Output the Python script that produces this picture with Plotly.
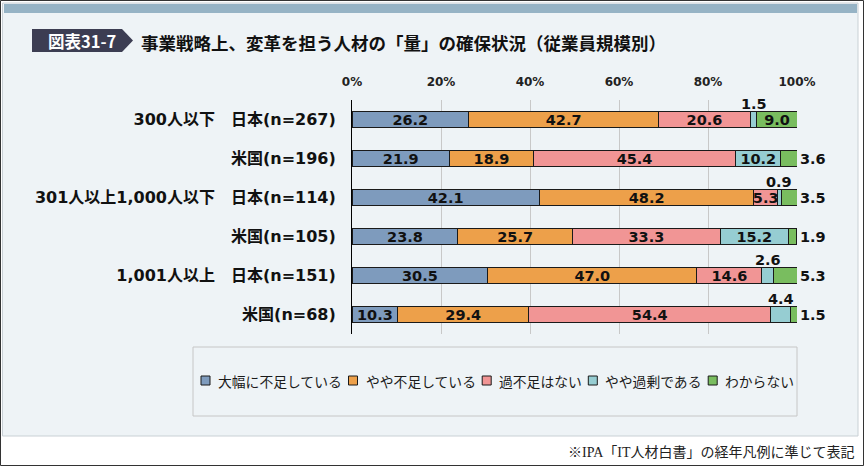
import plotly.graph_objects as go

# ---------------- data ----------------
group_labels = ["300人以下", "", "301人以上1,000人以下", "", "1,001人以上", ""]
country_labels = ["日本(n=267)", "米国(n=196)", "日本(n=114)", "米国(n=105)", "日本(n=151)", "米国(n=68)"]
series_names = ["大幅に不足している", "やや不足している", "過不足はない", "やや過剰である", "わからない"]
s_severe = [26.2, 21.9, 42.1, 23.8, 30.5, 10.3]
s_some = [42.7, 18.9, 48.2, 25.7, 47.0, 29.4]
s_none = [20.6, 45.4, 5.3, 33.3, 14.6, 54.4]
s_excess = [1.5, 10.2, 0.9, 15.2, 2.6, 4.4]
s_unknown = [9.0, 3.6, 3.5, 1.9, 5.3, 1.5]
x_ticks = [0, 20, 40, 60, 80, 100]
x_ticktext = ["0%", "20%", "40%", "60%", "80%", "100%"]
title_badge = "図表31-7"
title_text = "事業戦略上、変革を担う人材の「量」の確保状況（従業員規模別）"
footer_text = "※IPA「IT人材白書」の経年凡例に準じて表記"

series_values = [s_severe, s_some, s_none, s_excess, s_unknown]
colors = ["#7e9bbd", "#eda04a", "#f19595", "#96cdd2", "#79bd5f"]

# ---------------- layout geometry ----------------
W, H = 864, 466
L, R, T, B = 352, 67, 100, 132
PW = W - L - R
PH = H - T - B


def px(x):
    return (x - L) / PW


def py(y):
    return (H - B - y) / PH


LATIN = "DejaVu Sans, Noto Sans CJK JP, sans-serif"
CJK = "Noto Sans CJK JP, sans-serif"

rows = list(range(len(country_labels)))
ticktext = [(g + "\u3000" + c) if g else c for g, c in zip(group_labels, country_labels)]

fig = go.Figure()
annotations = []
cum = [0.0] * len(rows)
n_series = len(series_values)
LBL_FS = 14.5
for j, (name, vals, col) in enumerate(zip(series_names, series_values, colors)):
    texts = []
    for i, v in enumerate(vals):
        last = j == n_series - 1
        if last and v < 6:
            texts.append("")
            annotations.append(dict(x=100, y=i, xref="x", yref="y", text=f"{v:.1f}",
                                    showarrow=False, xanchor="left", yanchor="middle", xshift=1,
                                    font=dict(family=LATIN, size=LBL_FS, color="#111", weight="bold")))
        elif (not last) and v < 5:
            texts.append("")
            annotations.append(dict(x=cum[i] + v / 2, y=i, xref="x", yref="y", text=f"{v:.1f}",
                                    showarrow=False, xanchor="center", yanchor="middle", yshift=16,
                                    font=dict(family=LATIN, size=LBL_FS, color="#111", weight="bold")))
        else:
            texts.append(f"{v:.1f}")
        cum[i] += v
    fig.add_trace(go.Bar(
        y=rows, x=vals, orientation="h", name=name,
        marker=dict(color=col, line=dict(color="#1a1a1a", width=1)),
        text=texts, textposition="inside", insidetextanchor="middle",
        textfont=dict(family=LATIN, size=LBL_FS, color="#111", weight="bold"),
        constraintext="none", cliponaxis=False, showlegend=False,
        hovertemplate="%{x}<extra>" + name + "</extra>",
    ))

shapes = []
# outer frame
shapes.append(dict(type="rect", xref="paper", yref="paper", x0=px(0.5), x1=px(863.5), y0=py(0.5), y1=py(465.5),
                   line=dict(color="#333", width=1), fillcolor="#ffffff", layer="below"))
# panel
shapes.append(dict(type="rect", xref="paper", yref="paper", x0=px(2.5), x1=px(858), y0=py(3), y1=py(436),
                   line=dict(color="#c9d0d5", width=1), fillcolor="#eef3f6", layer="below"))
# top band
shapes.append(dict(type="rect", xref="paper", yref="paper", x0=px(4), x1=px(857), y0=py(4), y1=py(13),
                   line=dict(width=0), fillcolor="#96b3c5", layer="below"))
# badge
bx = [32, 122, 133, 122, 32]
by = [29, 29, 40.5, 52, 52]
path = "M " + " L ".join(f"{px(a)},{py(b)}" for a, b in zip(bx, by)) + " Z"
shapes.append(dict(type="path", xref="paper", yref="paper", path=path,
                   line=dict(width=0), fillcolor="#3c3d52", layer="below"))
# legend box
shapes.append(dict(type="rect", xref="paper", yref="paper", x0=px(193), x1=px(797), y0=py(347), y1=py(416),
                   line=dict(color="#c6c6c6", width=1), fillcolor="rgba(0,0,0,0)", layer="below"))

# manual legend
LEG_FS = 13.8
xcur = 201
ly = 380.5
for name, col in zip(series_names, colors):
    shapes.append(dict(type="rect", xref="paper", yref="paper", x0=px(xcur), x1=px(xcur + 9),
                       y0=py(ly + 4.5), y1=py(ly - 4.5), line=dict(color="#1a1a1a", width=1),
                       fillcolor=col, layer="above"))
    tx = xcur + 9 + 6
    annotations.append(dict(x=px(tx), y=py(ly), xref="paper", yref="paper", text=name, showarrow=False,
                            xanchor="left", yanchor="middle",
                            font=dict(family=CJK, size=LEG_FS, color="#1a1a1a")))
    xcur = tx + LEG_FS * len(name) + 8.3

# title & badge text
annotations.append(dict(x=px(82), y=py(40.5), xref="paper", yref="paper", text=title_badge, showarrow=False,
                        xanchor="center", yanchor="middle",
                        font=dict(family=CJK, size=16.5, color="#ffffff", weight="bold")))
annotations.append(dict(x=px(139), y=py(42), xref="paper", yref="paper", text=title_text, showarrow=False,
                        xanchor="left", yanchor="middle",
                        font=dict(family=CJK, size=17.5, color="#111111", weight="bold")))
annotations.append(dict(x=px(857), y=py(452), xref="paper", yref="paper", text=footer_text, showarrow=False,
                        xanchor="right", yanchor="middle",
                        font=dict(family="Liberation Serif, Noto Sans CJK JP, serif", size=14, color="#222")))

fig.update_layout(
    width=W, height=H,
    margin=dict(l=L, r=R, t=T, b=B, pad=0),
    barmode="stack", bargap=0.58,
    paper_bgcolor="#ffffff", plot_bgcolor="rgba(0,0,0,0)",
    uniformtext=dict(minsize=LBL_FS, mode="show"),
    shapes=shapes, annotations=annotations,
    showlegend=False,
    xaxis=dict(range=[0, 100], side="top", tickvals=x_ticks, ticktext=x_ticktext,
               showgrid=True, gridcolor="#c8c8c8", gridwidth=1, zeroline=False, showline=False,
               ticks="outside", ticklen=8, tickcolor="rgba(0,0,0,0)",
               tickfont=dict(family=LATIN, size=12, color="#222", weight="bold"), fixedrange=True),
    yaxis=dict(range=[5.5, -0.5], tickvals=rows, ticktext=ticktext,
               showline=True, linecolor="#000", linewidth=1, showgrid=False, zeroline=False,
               ticks="outside", ticklen=12, tickcolor="rgba(0,0,0,0)",
               tickfont=dict(family=LATIN, size=16, color="#111", weight="bold"), fixedrange=True),
)

fig.write_html("out.html", config={"displayModeBar": False},
               post_script="document.body.style.margin='0';document.body.style.overflow='hidden';")
